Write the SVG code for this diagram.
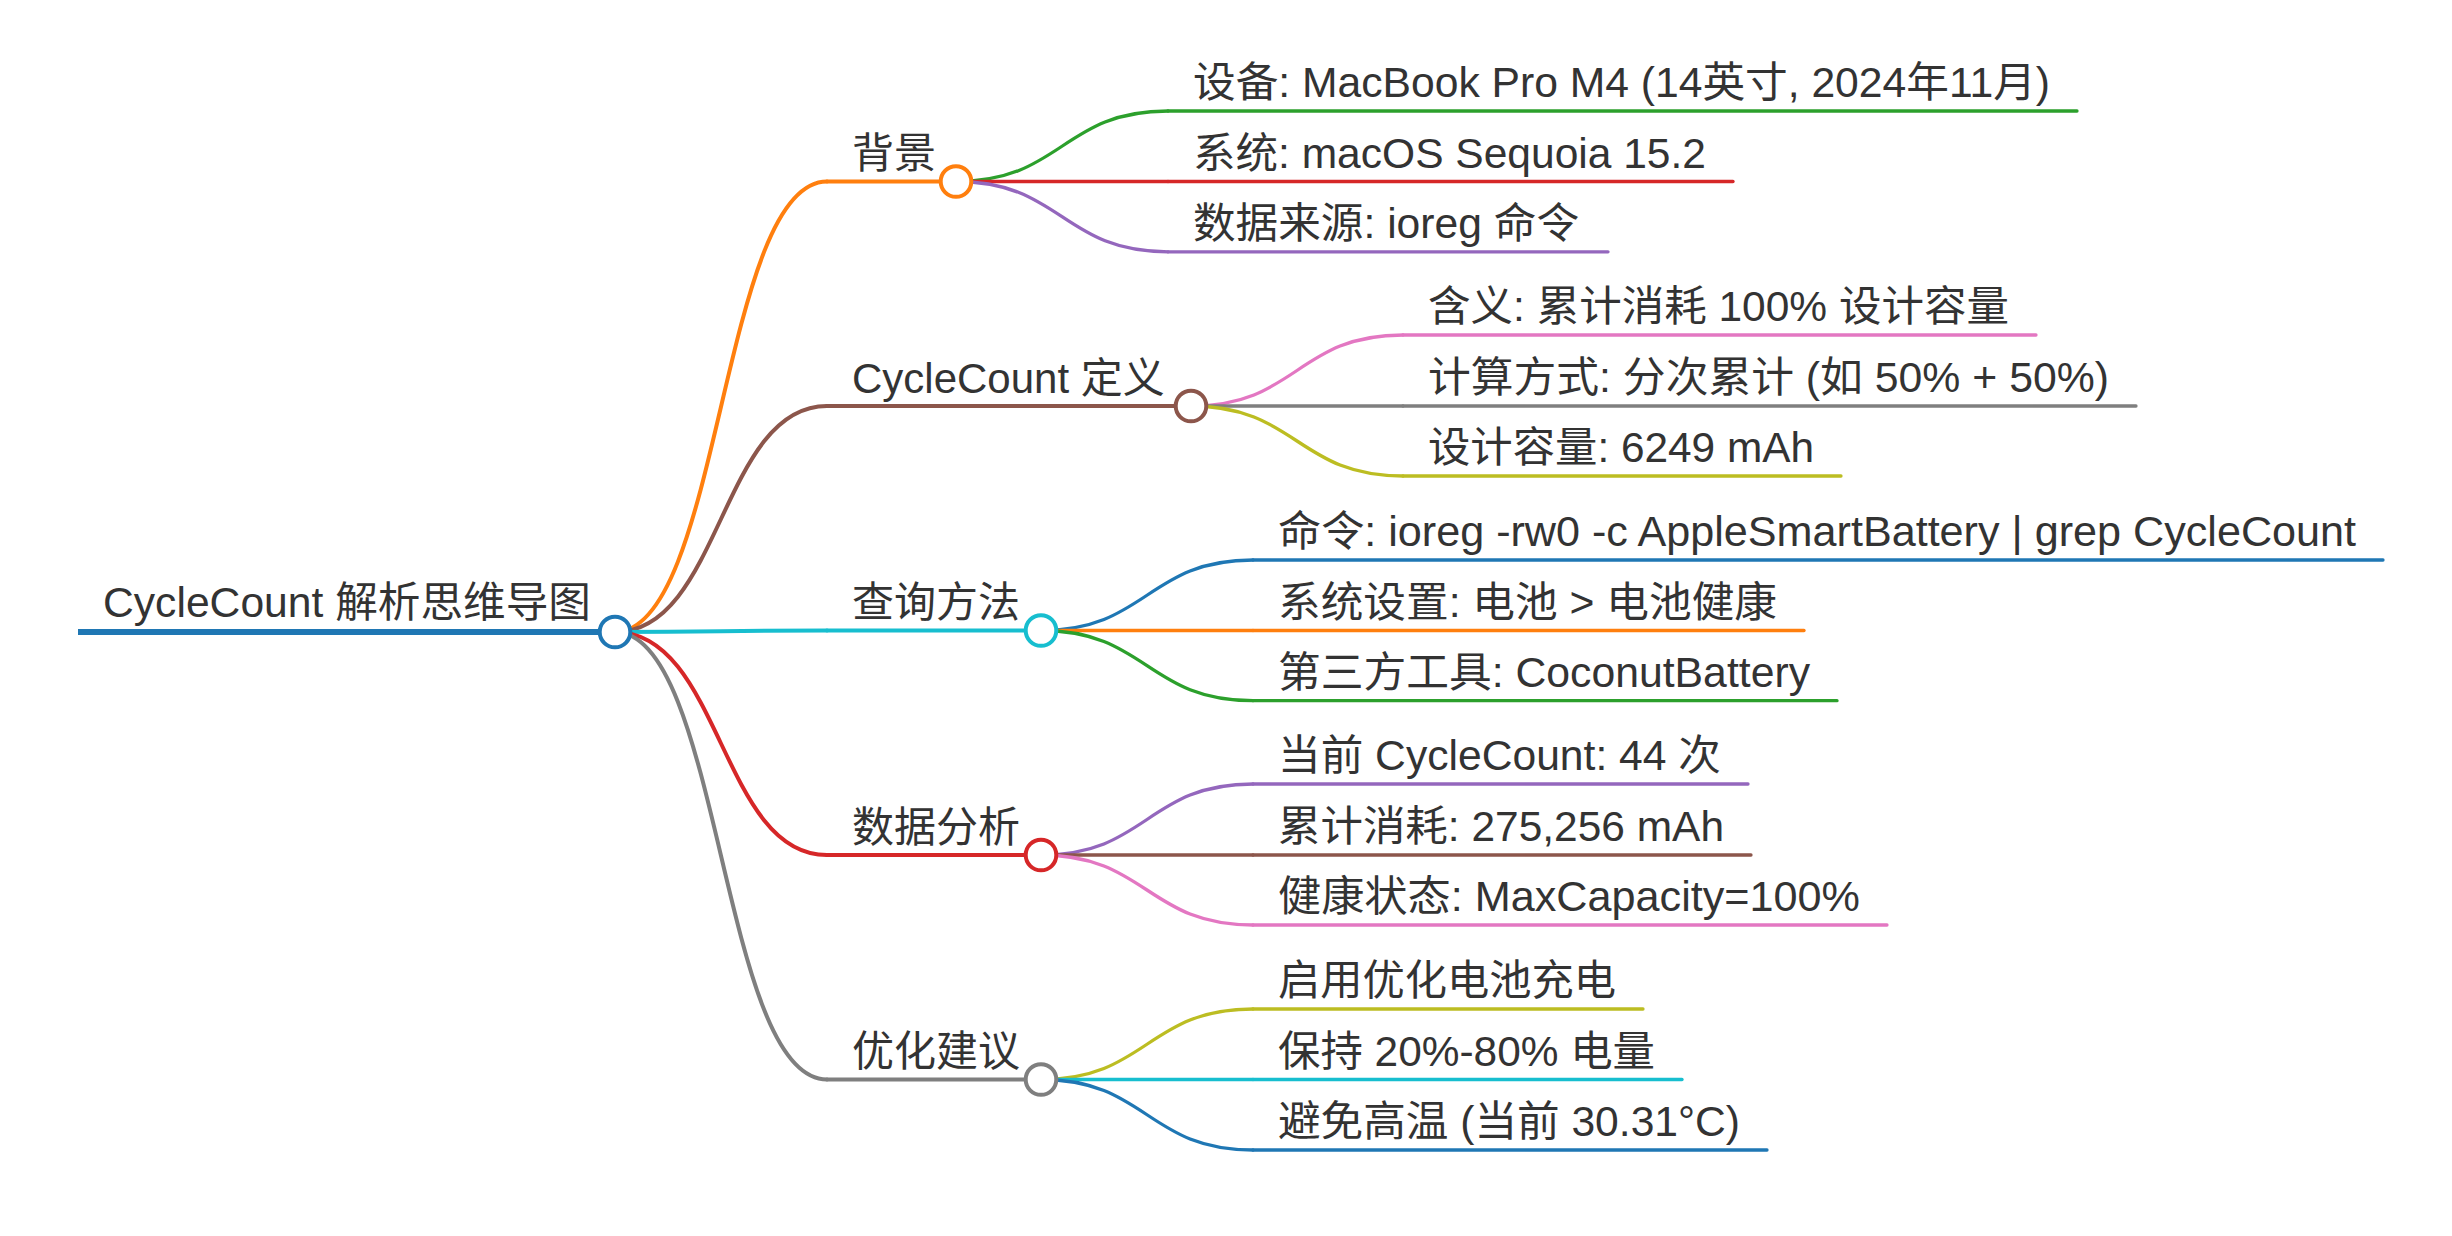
<svg xmlns="http://www.w3.org/2000/svg" width="2452" height="1236" viewBox="0 0 2452 1236">
<style>
text{font-family:"Liberation Sans","Noto Sans CJK SC",sans-serif;font-size:42px;fill:#333}
path,line{fill:none;stroke-linecap:round}
.l0{stroke-width:6}
.l1{stroke-width:4}
.l2{stroke-width:3.3}
circle{fill:#fff;stroke-width:4}
.c0{stroke:#1f77b4}.c1{stroke:#ff7f0e}.c2{stroke:#2ca02c}.c3{stroke:#d62728}.c4{stroke:#9467bd}
.c5{stroke:#8c564b}.c6{stroke:#e377c2}.c7{stroke:#7f7f7f}.c8{stroke:#bcbd22}.c9{stroke:#17becf}
</style>
<rect width="2452" height="1236" fill="#fff"/>
<g id="connectors">
<path class="l1 c1" d="M615,632 C721,632 721,181.5 827,181.5"/>
<path class="l1 c5" d="M615,632 C721,632 721,406 827,406"/>
<path class="l1 c9" d="M615,632 C721,632 721,630.5 827,630.5"/>
<path class="l1 c3" d="M615,632 C721,632 721,855 827,855"/>
<path class="l1 c7" d="M615,632 C721,632 721,1079.5 827,1079.5"/>
<path class="l2 c2" d="M956,181.5 C1062,181.5 1062,111 1168,111"/>
<path class="l2 c3" d="M956,181.5 C1062,181.5 1062,181.5 1168,181.5"/>
<path class="l2 c4" d="M956,181.5 C1062,181.5 1062,251.8 1168,251.8"/>
<path class="l2 c6" d="M1191,406 C1297,406 1297,335 1403,335"/>
<path class="l2 c7" d="M1191,406 C1297,406 1297,406 1403,406"/>
<path class="l2 c8" d="M1191,406 C1297,406 1297,476 1403,476"/>
<path class="l2 c0" d="M1041,630.5 C1147,630.5 1147,560 1253,560"/>
<path class="l2 c1" d="M1041,630.5 C1147,630.5 1147,630.5 1253,630.5"/>
<path class="l2 c2" d="M1041,630.5 C1147,630.5 1147,700.7 1253,700.7"/>
<path class="l2 c4" d="M1041,855 C1147,855 1147,784 1253,784"/>
<path class="l2 c5" d="M1041,855 C1147,855 1147,855 1253,855"/>
<path class="l2 c6" d="M1041,855 C1147,855 1147,925 1253,925"/>
<path class="l2 c8" d="M1041,1079.5 C1147,1079.5 1147,1009 1253,1009"/>
<path class="l2 c9" d="M1041,1079.5 C1147,1079.5 1147,1079.5 1253,1079.5"/>
<path class="l2 c0" d="M1041,1079.5 C1147,1079.5 1147,1150 1253,1150"/>
</g>
<g id="root">
<line class="l0 c0" x1="78" y1="632" x2="615" y2="632" style="stroke-linecap:butt"/>
<circle class="c0" cx="615" cy="632" r="15.3"/>
<text x="103" y="616.5" textLength="488" lengthAdjust="spacingAndGlyphs">CycleCount 解析思维导图</text>
</g>
<g id="n-bg">
<line class="l1 c1" x1="827" y1="181.5" x2="956" y2="181.5"/>
<circle class="c1" cx="956" cy="181.5" r="15.3"/>
<text x="852" y="168">背景</text>
</g>
<g id="n-bg-1"><line class="l2 c2" x1="1168" y1="111" x2="2077" y2="111"/><text x="1193" y="97" textLength="857" lengthAdjust="spacingAndGlyphs">设备: MacBook Pro M4 (14英寸, 2024年11月)</text></g>
<g id="n-bg-2"><line class="l2 c3" x1="1168" y1="181.5" x2="1733" y2="181.5"/><text x="1193" y="168" textLength="513" lengthAdjust="spacingAndGlyphs">系统: macOS Sequoia 15.2</text></g>
<g id="n-bg-3"><line class="l2 c4" x1="1168" y1="251.8" x2="1608" y2="251.8"/><text x="1193" y="238" textLength="386" lengthAdjust="spacingAndGlyphs">数据来源: ioreg 命令</text></g>
<g id="n-def">
<line class="l1 c5" x1="827" y1="406" x2="1191" y2="406"/>
<circle class="c5" cx="1191" cy="406" r="15.3"/>
<text x="852" y="392.5">CycleCount 定义</text>
</g>
<g id="n-def-1"><line class="l2 c6" x1="1403" y1="335" x2="2036" y2="335"/><text x="1428" y="321" textLength="581" lengthAdjust="spacingAndGlyphs">含义: 累计消耗 100% 设计容量</text></g>
<g id="n-def-2"><line class="l2 c7" x1="1403" y1="406" x2="2136" y2="406"/><text x="1428" y="392" textLength="681" lengthAdjust="spacingAndGlyphs">计算方式: 分次累计 (如 50% + 50%)</text></g>
<g id="n-def-3"><line class="l2 c8" x1="1403" y1="476" x2="1841" y2="476"/><text x="1428" y="462" textLength="386" lengthAdjust="spacingAndGlyphs">设计容量: 6249 mAh</text></g>
<g id="n-query">
<line class="l1 c9" x1="827" y1="630.5" x2="1041" y2="630.5"/>
<circle class="c9" cx="1041" cy="630.5" r="15.3"/>
<text x="852" y="617">查询方法</text>
</g>
<g id="n-query-1"><line class="l2 c0" x1="1253" y1="560" x2="2383" y2="560"/><text x="1278" y="546" textLength="1078" lengthAdjust="spacingAndGlyphs">命令: ioreg -rw0 -c AppleSmartBattery | grep CycleCount</text></g>
<g id="n-query-2"><line class="l2 c1" x1="1253" y1="630.5" x2="1804" y2="630.5"/><text x="1278" y="617" textLength="499" lengthAdjust="spacingAndGlyphs">系统设置: 电池 &gt; 电池健康</text></g>
<g id="n-query-3"><line class="l2 c2" x1="1253" y1="700.7" x2="1837" y2="700.7"/><text x="1278" y="687" textLength="532" lengthAdjust="spacingAndGlyphs">第三方工具: CoconutBattery</text></g>
<g id="n-data">
<line class="l1 c3" x1="827" y1="855" x2="1041" y2="855"/>
<circle class="c3" cx="1041" cy="855" r="15.3"/>
<text x="852" y="841.5">数据分析</text>
</g>
<g id="n-data-1"><line class="l2 c4" x1="1253" y1="784" x2="1748" y2="784"/><text x="1278" y="770" textLength="443" lengthAdjust="spacingAndGlyphs">当前 CycleCount: 44 次</text></g>
<g id="n-data-2"><line class="l2 c5" x1="1253" y1="855" x2="1751" y2="855"/><text x="1278" y="841" textLength="446" lengthAdjust="spacingAndGlyphs">累计消耗: 275,256 mAh</text></g>
<g id="n-data-3"><line class="l2 c6" x1="1253" y1="925" x2="1887" y2="925"/><text x="1278" y="911" textLength="582" lengthAdjust="spacingAndGlyphs">健康状态: MaxCapacity=100%</text></g>
<g id="n-opt">
<line class="l1 c7" x1="827" y1="1079.5" x2="1041" y2="1079.5"/>
<circle class="c7" cx="1041" cy="1079.5" r="15.3"/>
<text x="852" y="1066">优化建议</text>
</g>
<g id="n-opt-1"><line class="l2 c8" x1="1253" y1="1009" x2="1643" y2="1009"/><text x="1278" y="995" textLength="338" lengthAdjust="spacingAndGlyphs">启用优化电池充电</text></g>
<g id="n-opt-2"><line class="l2 c9" x1="1253" y1="1079.5" x2="1682" y2="1079.5"/><text x="1278" y="1066" textLength="377" lengthAdjust="spacingAndGlyphs">保持 20%-80% 电量</text></g>
<g id="n-opt-3"><line class="l2 c0" x1="1253" y1="1150" x2="1767" y2="1150"/><text x="1278" y="1136" textLength="462" lengthAdjust="spacingAndGlyphs">避免高温 (当前 30.31°C)</text></g>
</svg>
